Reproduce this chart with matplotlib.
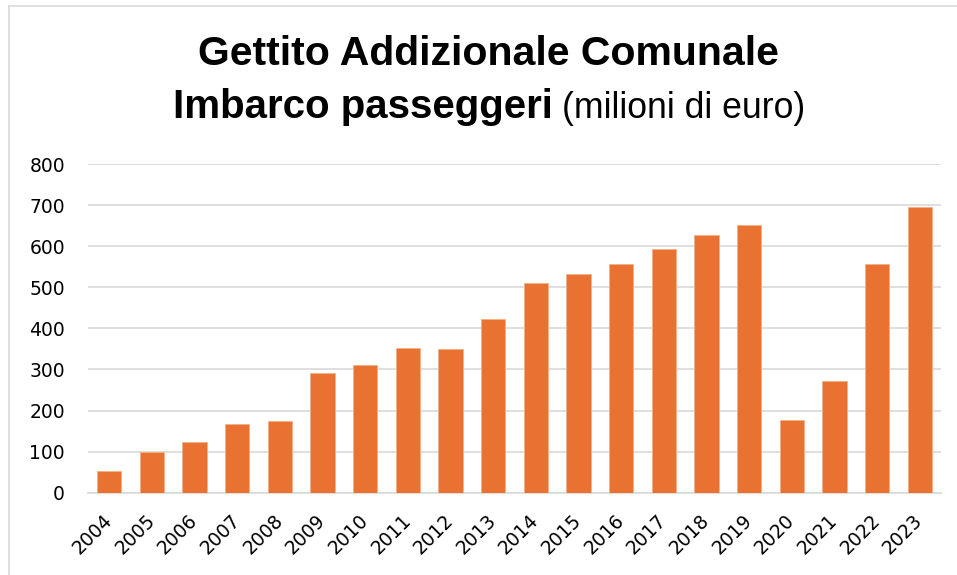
import matplotlib
matplotlib.use("Agg")
import matplotlib.pyplot as plt
from matplotlib.lines import Line2D

plt.rcParams["font.family"] = ["Liberation Sans", "DejaVu Sans"]

anni = [str(a) for a in range(2004, 2024)]
gettito = [53, 98, 123, 168, 175, 291, 311, 353, 350, 422,
           510, 532, 557, 593, 627, 652, 177, 273, 556, 695]

fig = plt.figure(figsize=(9.57, 5.75), dpi=100)
ax = fig.add_axes([88 / 957, 1 - 492.7 / 575, (941 - 88) / 957, (492.7 - 164) / 575])

ax.bar(range(len(anni)), gettito, width=0.57, color="#E97132",
       edgecolor="#F4B183", linewidth=0.6, zorder=3)

ax.set_xlim(-0.5, len(anni) - 0.5)
ax.set_ylim(0, 800)
ax.set_yticks(range(0, 801, 100))
ax.yaxis.grid(True, color="#D9D9D9", linewidth=1.2, zorder=0)
ax.set_xticks(range(len(anni)))
ax.set_xticklabels(anni, rotation=45, ha="right", va="center",
                   rotation_mode="anchor")
ax.tick_params(axis="both", length=0, labelsize=13.5, colors="black")
for lbl in ax.get_xticklabels() + ax.get_yticklabels():
    lbl.set_fontfamily("DejaVu Sans")
ax.tick_params(axis="y", pad=16.5)
ax.tick_params(axis="x", pad=18)
for side in ["top", "right", "left"]:
    ax.spines[side].set_visible(False)
ax.spines["bottom"].set_color("#D9D9D9")
ax.spines["bottom"].set_linewidth(1.2)

# titolo su due righe, seconda riga con parte in grassetto
fig.text(488 / 957, 1 - 65 / 575, "Gettito Addizionale Comunale", ha="center",
         va="baseline", fontsize=29.5, fontweight="bold")
fig.text(553 / 957, 1 - 118 / 575, "Imbarco passeggeri", ha="right",
         va="baseline", fontsize=29, fontweight="bold")
fig.text(562 / 957, 1 - 118 / 575, "(milioni di euro)", ha="left",
         va="baseline", fontsize=25.7)

# cornice del grafico
fig.add_artist(Line2D([9 / 957, 1], [1 - 6 / 575, 1 - 6 / 575],
                      transform=fig.transFigure, color="#D9D9D9", linewidth=1.2))
fig.add_artist(Line2D([9 / 957, 9 / 957], [0, 1 - 6 / 575],
                      transform=fig.transFigure, color="#D9D9D9", linewidth=1.2))

fig.savefig("out.png", dpi=100, facecolor="white")
